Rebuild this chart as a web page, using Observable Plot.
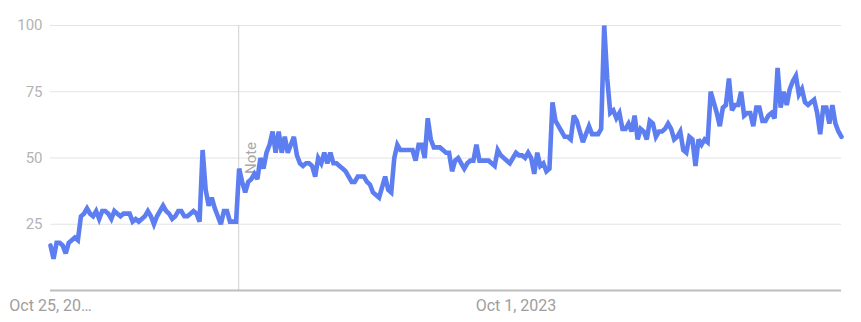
<!DOCTYPE html>
<html>
<head>
<meta charset="utf-8">
<script src="https://cdn.jsdelivr.net/npm/d3@7"></script>
<script src="https://cdn.jsdelivr.net/npm/@observablehq/plot@0.6"></script>
<style>
  html, body { margin: 0; padding: 0; background: #fff; }
  #chart svg { display: block; }
</style>
</head>
<body>
<div id="chart"></div>
<script>
// Weekly interest values, starting week of Oct 25, 2020
const startWeek = "2020-10-25";
const values = [
  17,12,18,18,17,14,18,19,20,19,
  28,29,31,29,28,30,27,30,30,29,
  27,30,29,28,29,29,29,26,27,26,
  27,28,30,28,25,28,30,32,30,29,
  27,28,30,30,28,28,29,30,29,26,
  53,38,32,35,31,28,25,30,30,26,
  26,26,46,41,37,41,42,44,42,50,
  46,52,55,60,52,60,52,58,52,55,
  58,51,48,47,48,48,47,43,50,48,
  52,48,52,48,48,47,46,45,43,41,
  41,43,43,43,41,40,37,36,35,39,
  43,38,37,50,55,53,53,53,53,53,
  49,55,55,50,65,57,54,54,54,53,
  52,52,45,49,50,48,46,48,49,49,
  55,49,49,49,49,48,47,53,51,50,
  49,48,50,52,51,51,50,52,50,44,
  52,47,48,45,46,71,64,62,60,58,
  58,57,66,64,60,56,59,62,59,59,
  59,61,100,80,67,68,65,67,61,61,
  63,60,66,57,61,60,57,64,63,58,
  60,60,61,63,61,57,58,60,53,52,
  58,57,47,57,55,57,56,75,71,67,
  62,69,70,80,68,70,70,75,66,67,
  67,62,69,69,64,64,66,67,65,84,
  69,75,70,76,79,81,74,76,71,70,
  71,72,67,59,69,69,63,70,63,60,
  58
];
const yTicks = [25, 50, 75, 100];
const xTickDates = ["2020-10-25", "2023-10-01"];
const xTickLabels = ["Oct 25, 20\u2026", "Oct 1, 2023"];
const noteDate = "2022-01-01";
const noteLabel = "Note";

const t0 = new Date(startWeek + "T00:00:00Z");
const data = values.map((v, i) => ({
  date: new Date(t0.getTime() + i * 7 * 864e5),
  value: v
}));
const tickDates = xTickDates.map(d => new Date(d + "T00:00:00Z"));
const noteD = new Date(noteDate + "T00:00:00Z");

const chart = Plot.plot({
  width: 861,
  height: 322,
  marginLeft: 50,
  marginRight: 20,
  marginTop: 25,
  marginBottom: 32,
  style: { fontFamily: "Roboto, 'Noto Sans', sans-serif", background: "#fff" },
  x: {
    type: "utc",
    domain: [data[0].date, data[data.length - 1].date]
  },
  y: { domain: [0, 100] },
  marks: [
    Plot.ruleY(yTicks, { stroke: "#e3e3e3", strokeWidth: 1 }),
    Plot.ruleX([noteD], { stroke: "#d0d0d0", strokeWidth: 1 }),
    Plot.text([noteD], {
      x: d => d, y: [50], text: [noteLabel], rotate: -90,
      dx: 12, fontSize: 15, fill: "#a8a8a8", textAnchor: "middle"
    }),
    Plot.ruleY([0], { stroke: "#bdbdbd", strokeWidth: 2 }),
    Plot.line(data, {
      x: "date", y: "value", stroke: "#5d7ef1", strokeWidth: 4.6,
      strokeLinejoin: "miter", strokeMiterlimit: 3, curve: "linear"
    }),
    Plot.axisY({
      ticks: yTicks, tickSize: 0, tickPadding: 8, fontSize: 15,
      color: "#b3b3b3", label: null
    }),
    Plot.axisX({
      ticks: tickDates, tickSize: 0, tickPadding: 9, fontSize: 16,
      color: "#9e9e9e", label: null,
      tickFormat: (d) => xTickLabels[tickDates.findIndex(t => +t === +d)]
    })
  ]
});
document.getElementById("chart").appendChild(chart);
</script>
</body>
</html>
